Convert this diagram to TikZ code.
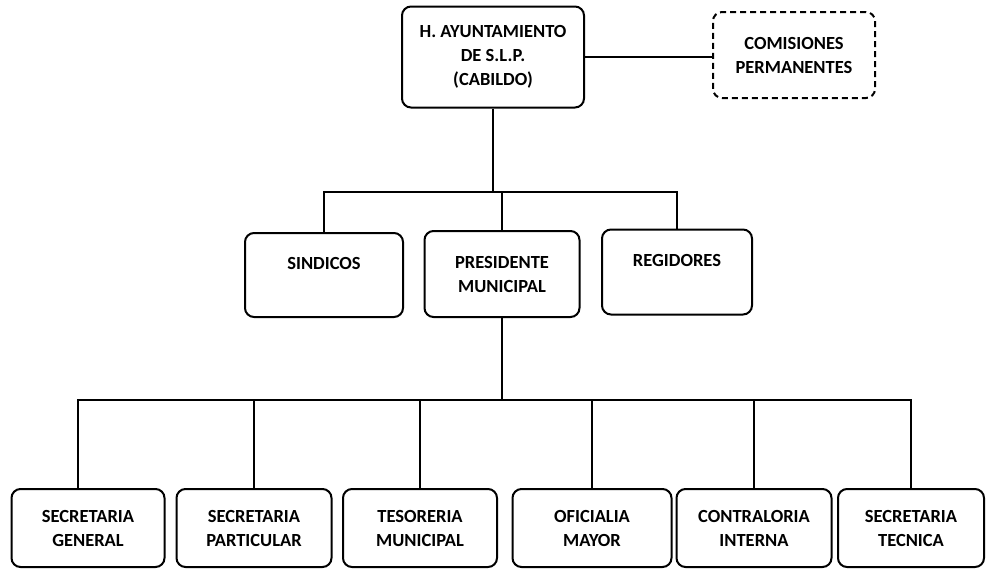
\documentclass[tikz,border=0pt]{standalone}
\usepackage{fontspec}
\setmainfont{Carlito}
\usepackage{tikz}
\usetikzlibrary{calc}
\tikzset{%
  % Specifications for style of nodes:
            base/.style = {rectangle, rounded corners=9pt, draw=black,
                           line width=2pt, inner sep=0pt,
                           text centered, align=center,
                           font=\fontsize{18.5}{24}\selectfont\bfseries},
            office/.style = {base, minimum height=78pt},
            link/.style = {line width=2pt}
                           }

\begin{document}
\begin{tikzpicture}[x=1pt, y=-1pt]
                    \useasboundingbox (0,0) rectangle (986,570);

                    \node (cabildo)    [base, minimum width=182pt, minimum height=101pt] at (493,57)  {H. AYUNTAMIENTO\\DE S.L.P.\\(CABILDO)};
                    \node (comisiones) [base, dashed, dash pattern=on 6pt off 4pt,
                                        minimum width=162pt, minimum height=86pt]    at (794,55)  {COMISIONES\\PERMANENTES};

                    \node (sindicos)   [base, minimum width=158pt, minimum height=84pt]  at (324,275) {SINDICOS\\\phantom{X}};
                    \node (presidente) [base, minimum width=155pt, minimum height=86pt]  at (502,274) {PRESIDENTE\\MUNICIPAL};
                    \node (regidores)  [base, minimum width=150pt, minimum height=85pt]  at (677,272) {REGIDORES\\\phantom{X}};

                    \node (secgen)      [office, minimum width=153pt] at (88,528)  {SECRETARIA\\GENERAL};
                    \node (secpar)      [office, minimum width=155pt] at (254,528) {SECRETARIA\\PARTICULAR};
                    \node (tesoreria)   [office, minimum width=154pt] at (420,528) {TESORERIA\\MUNICIPAL};
                    \node (oficialia)   [office, minimum width=159pt] at (592,528) {OFICIALIA\\MAYOR};
                    \node (contraloria) [office, minimum width=155pt] at (754,528) {CONTRALORIA\\INTERNA};
                    \node (sectec)      [office, minimum width=146pt] at (911,528) {SECRETARIA\\TECNICA};

                    \coordinate (bus1) at (493,192);
                    \coordinate (bus2) at (502,400);

                    \draw[link]  (cabildo.east) -- (cabildo.east -| comisiones.west);
                    \draw[link]  (cabildo.south) -- (bus1);
                    \draw[link]  (sindicos.north) |- (bus1) -| (regidores.north);
                    \draw[link]  (presidente.north) |- (bus1);

                    \draw[link]  (presidente.south) -- (bus2);
                    \draw[link]  ([xshift=-10pt]secgen.north) |- (bus2) -| (sectec.north);
                    \draw[link]  (secpar.north) |- (bus2);
                    \draw[link]  (tesoreria.north) |- (bus2);
                    \draw[link]  (oficialia.north) |- (bus2);
                    \draw[link]  (contraloria.north) |- (bus2);
                \end{tikzpicture}
\end{document}
